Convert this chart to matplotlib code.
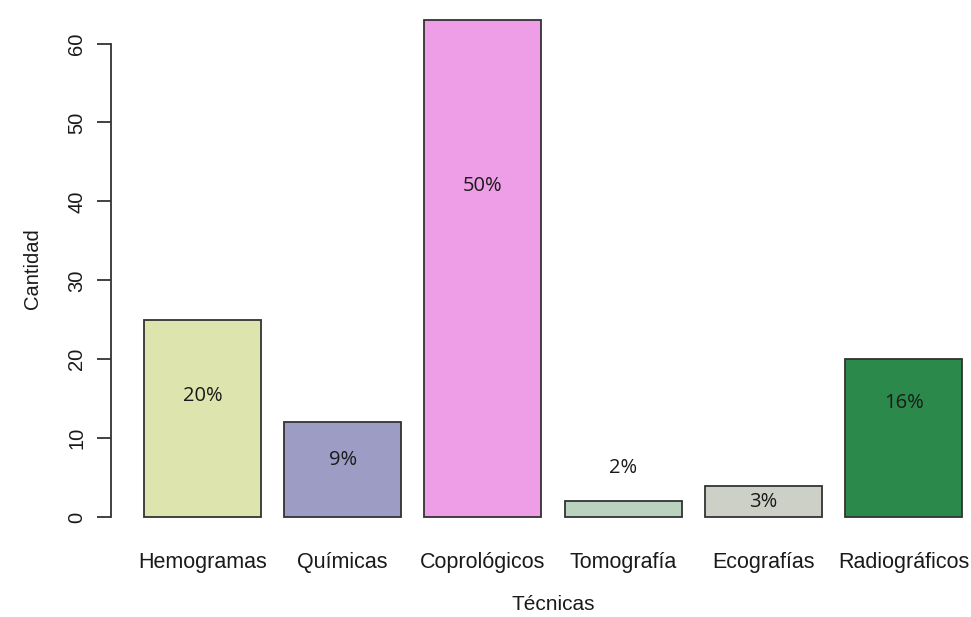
import matplotlib
matplotlib.use("Agg")
import matplotlib.pyplot as plt
import numpy as np

categories = ["Hemogramas", "Químicas", "Coprológicos", "Tomografía", "Ecografías", "Radiográficos"]
values = [25, 12, 63, 2, 4, 20]
pct_labels = ["20%", "9%", "50%", "2%", "3%", "16%"]
label_y = [15.4, 7.2, 41.9, 6.2, 1.9, 14.4]
colors = ["#DEE4AE", "#9C9CC4", "#EE9DE7", "#B9D3BF", "#CDD0C6", "#2A894B"]
yticks = [0, 10, 20, 30, 40, 50, 60]

plt.rcParams['font.family'] = ['Liberation Sans', 'DejaVu Sans']

W, H = 971, 617
fig = plt.figure(figsize=(W / 100, H / 100), dpi=100)
ax = fig.add_axes([111.2 / W, 80 / H, (994.8 - 111.2) / W, 537 / H])

n = len(values)
x = 0.2 + 0.5 + 1.2 * np.arange(n)
ax.bar(x, values, width=1.0, color=colors, edgecolor="#333333", linewidth=1.3, zorder=2)

for xi, ly, t in zip(x, label_y, pct_labels):
    ax.text(xi, ly, t, ha="center", va="center", fontsize=14.5,
            family=['Open Sans', 'DejaVu Sans'], color="#1a1a1a", zorder=3)

ax.set_xlim(-0.08, 7.48)
ax.set_ylim(-2.52, 65.52)

for s in ["top", "right", "bottom"]:
    ax.spines[s].set_visible(False)
ax.spines["left"].set_bounds(0, 60)
ax.spines["left"].set_color("#333333")
ax.spines["left"].set_linewidth(1.3)

ax.set_yticks(yticks)
ax.set_yticklabels([str(v) for v in yticks], rotation=90, va="center", fontsize=14.5)
ax.tick_params(axis="y", length=10, width=1.3, color="#333333", pad=8, labelcolor="#1a1a1a")

ax.set_xticks(x)
ax.set_xticklabels(categories, fontsize=15.5, color="#1a1a1a")
ax.tick_params(axis="x", length=0, pad=11)

ax.set_xlabel("Técnicas", fontsize=15, color="#1a1a1a", labelpad=16)
ax.set_ylabel("Cantidad", fontsize=14.5, color="#1a1a1a", labelpad=18)

fig.savefig("out.png", dpi=100)
